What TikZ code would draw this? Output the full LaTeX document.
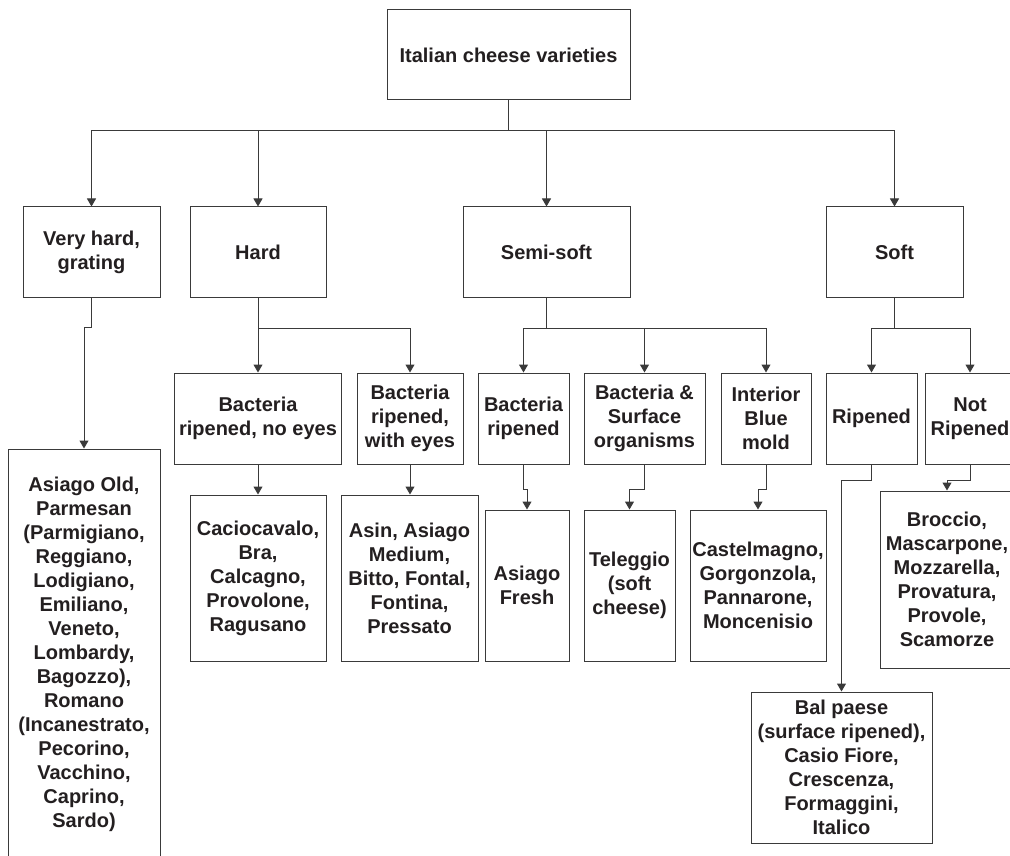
\documentclass[tikz,border=0pt]{standalone}
\usepackage{fontspec}
\setmainfont{Liberation Sans}
\usetikzlibrary{arrows.meta}
\definecolor{ink}{HTML}{231F20}
\definecolor{rule}{HTML}{3A3A3A}
\tikzset{
  box/.style={draw=rule, line width=1pt, rectangle, inner sep=0pt, align=center,
    text=ink, font=\fontsize{20}{24}\selectfont\bfseries},
  link/.style={draw=rule, line width=1pt},
  arr/.style={link, -{Triangle[length=8pt,width=9pt]}}
}
\begin{document}
\begin{tikzpicture}[x=1pt,y=-1pt]
\useasboundingbox (0,0) rectangle (1010,856);
\clip (0,0) rectangle (1010,856);
\fill[white] (0,0) rectangle (1010,856);

% root
\node[box, minimum width=243, minimum height=90] (top) at (508.5,55) {Italian cheese varieties};

% firmness classes
\node[box, minimum width=137, minimum height=90] (vh)   at (91.5,252)  {Very hard,\\grating};
\node[box, minimum width=136, minimum height=90] (hard) at (258,252)   {Hard};
\node[box, minimum width=167, minimum height=90] (semi) at (546.5,252) {Semi-soft};
\node[box, minimum width=137, minimum height=90] (soft) at (894.5,252) {Soft};

% ripening groups
\node[box, minimum width=167, minimum height=91] (noeyes)   at (258,418.5)   {Bacteria\\ripened, no eyes};
\node[box, minimum width=106, minimum height=91] (witheyes) at (410,418.5)   {Bacteria\\ripened,\\with eyes};
\node[box, minimum width=91,  minimum height=91] (bacrip)   at (523.5,418.5) {Bacteria\\ripened};
\node[box, minimum width=121, minimum height=91] (surf)     at (644.5,418.5) {Bacteria \&\\Surface\\organisms};
\node[box, minimum width=90,  minimum height=91] (blue)     at (766,418.5)   {Interior\\Blue\\mold};
\node[box, minimum width=91,  minimum height=91] (ripened)  at (871.5,418.5) {Ripened};
\node[box, minimum width=90,  minimum height=91] (notrip)   at (970,418.5)   {Not\\Ripened};

% cheese lists
\node[box, minimum width=152, minimum height=411] (leafvh) at (84,654.5)
  {Asiago Old,\\Parmesan\\(Parmigiano,\\Reggiano,\\Lodigiano,\\Emiliano,\\Veneto,\\Lombardy,\\Bagozzo),\\Romano\\(Incanestrato,\\Pecorino,\\Vacchino,\\Caprino,\\Sardo)};
\node[box, minimum width=136, minimum height=166] (cacio) at (258,578)
  {Caciocavalo,\\Bra,\\Calcagno,\\Provolone,\\Ragusano};
\node[box, minimum width=137, minimum height=166] (asin) at (409.5,578)
  {Asin, Asiago\\Medium,\\Bitto, Fontal,\\Fontina,\\Pressato};
\node[box, minimum width=84, minimum height=151] (fresh) at (527,585.5)
  {Asiago\\Fresh};
\node[box, minimum width=91, minimum height=151] (tele) at (629.5,585.5)
  {Teleggio\\(soft\\cheese)};
\node[box, minimum width=136, minimum height=151] (castel) at (758,585.5)
  {Castelmagno,\\Gorgonzola,\\Pannarone,\\Moncenisio};
\node[box, minimum width=134, minimum height=177] (broccio) at (947,579.5)
  {Broccio,\\Mascarpone,\\Mozzarella,\\Provatura,\\Provole,\\Scamorze};
\node[box, minimum width=181, minimum height=151] (balp) at (841.5,767.5)
  {Bal paese\\(surface ripened),\\Casio Fiore,\\Crescenza,\\Formaggini,\\Italico};

% bus lines
\coordinate (rootbus) at (508.5,131);
\coordinate (hardbus) at (258,328);
\coordinate (semibus) at (546.5,328);
\coordinate (softbus) at (894.5,328);

% root to classes
\draw[link] (top.south) -- (rootbus);
\draw[arr] (rootbus) -| (vh.north);
\draw[arr] (rootbus) -| (hard.north);
\draw[arr] (rootbus) -| (semi.north);
\draw[arr] (rootbus) -| (soft.north);

% classes to groups
\draw[arr] (vh.south) -- ++(0,30) -| (leafvh.north);
\draw[link] (hard.south) -- (hardbus);
\draw[arr] (hardbus) -| (noeyes.north);
\draw[arr] (hardbus) -| (witheyes.north);
\draw[link] (semi.south) -- (semibus);
\draw[arr] (semibus) -| (bacrip.north);
\draw[arr] (semibus) -| (surf.north);
\draw[arr] (semibus) -| (blue.north);
\draw[link] (soft.south) -- (softbus);
\draw[arr] (softbus) -| (ripened.north);
\draw[arr] (softbus) -| (notrip.north);

% groups to cheese lists
\draw[arr] (noeyes.south) -- (cacio.north);
\draw[arr] (witheyes.south) -- (witheyes.south |- asin.north);
\draw[arr] (bacrip.south) -- ++(0,25) -| (fresh.north);
\draw[arr] (surf.south) -- ++(0,25) -| (tele.north);
\draw[arr] (blue.south) -- ++(0,25) -| (castel.north);
\draw[arr] (notrip.south) -- ++(0,16) -| (broccio.north);
\draw[arr] (ripened.south) -- ++(0,16) -| (balp.north);
\end{tikzpicture}
\end{document}
